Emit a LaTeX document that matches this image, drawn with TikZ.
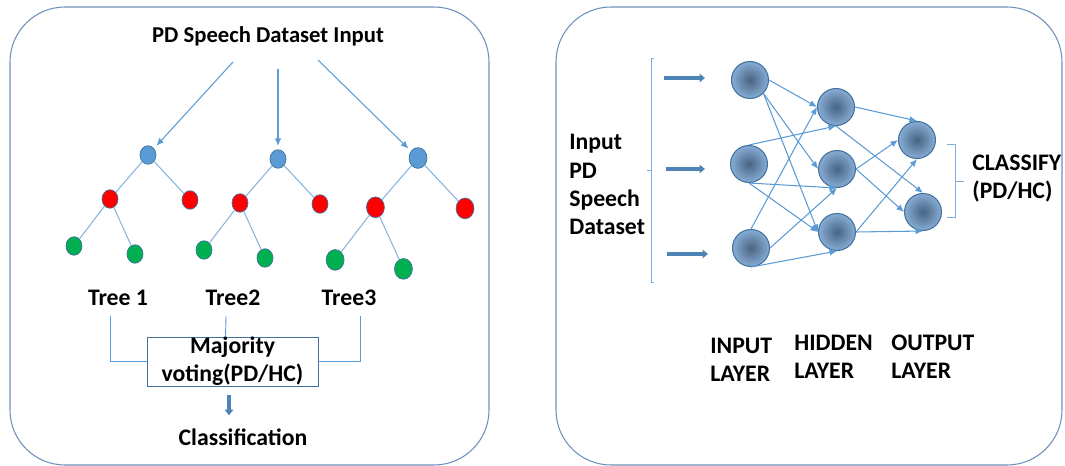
\documentclass[tikz,border=0pt]{standalone}
\usepackage{fontspec}
\setmainfont{Carlito}
\usetikzlibrary{positioning}
\usetikzlibrary{arrows,arrows.meta}
\usetikzlibrary{shapes.geometric}
\definecolor{lineblue}{RGB}{91,155,213}
\definecolor{edgeblue}{RGB}{65,113,156}
\definecolor{leafgreen}{RGB}{0,176,80}
\definecolor{panelblue}{RGB}{110,145,185}
\definecolor{coredark}{RGB}{72,100,130}
\definecolor{rimlight}{RGB}{135,172,212}

\tikzset{
 panel/.style={draw=panelblue, rounded corners=1.1cm, line width=0.6pt},
 lbl/.style={font=\bfseries\fontsize{13.5}{16}\selectfont, inner sep=0pt},
 heading/.style={font=\bfseries\fontsize{12.9}{15}\selectfont, inner sep=0pt},
 treenode/.style={ellipse, draw=edgeblue, line width=0.4pt, inner sep=0pt},
 treeedge/.style={draw=lineblue!75, line width=0.6pt},
 feed/.style={-{Latex[length=0.15cm,width=0.13cm]}, draw=lineblue, line width=0.6pt},
 fatarrow/.style={-{Triangle[length=0.11cm,width=0.17cm]}, draw=lineblue!85!black, line width=2.2pt},
 neuron/.style={circle, draw=edgeblue, line width=0.6pt, minimum size=0.74cm,
   inner color=coredark, outer color=rimlight},
 votebox/.style={draw=edgeblue, line width=0.5pt, minimum width=3.42cm,
   minimum height=0.98cm, align=center, inner sep=0pt}
}

\begin{document}
\begin{tikzpicture}[x=0.02cm,y=-0.02cm]
 \useasboundingbox (0,0) rectangle (1065,466);
 \draw[panel] (10,7) rectangle (489,465);
 \draw[panel] (556,7) rectangle (1062,465);

 % random forest side
 \node[heading] (data) at (268,36) {PD Speech Dataset Input};
 \coordinate (s1) at (233,62);
 \coordinate (s2) at (278,69);
 \coordinate (s3) at (318,60);
 \foreach \i/\x/\y/\s in {1/148/155/1, 2/278/159/1, 3/418/158/1.12}{
  \node[treenode, fill=lineblue, minimum width={0.32cm*\s}, minimum height={0.37cm*\s}] (r\i) at (\x,\y) {};
  \node[treenode, fill=red, minimum width={0.32cm*\s}, minimum height={0.37cm*\s}] (a\i) at (\x-38*\s,\y+44*\s) {};
  \node[treenode, fill=red, minimum width={0.32cm*\s}, minimum height={0.37cm*\s}] (b\i) at (\x+42*\s,\y+45*\s) {};
  \node[treenode, fill=leafgreen, minimum width={0.32cm*\s}, minimum height={0.37cm*\s}] (c\i) at (\x-74*\s,\y+91*\s) {};
  \node[treenode, fill=leafgreen, minimum width={0.32cm*\s}, minimum height={0.37cm*\s}] (d\i) at (\x-13*\s,\y+99*\s) {};
  \draw[treeedge] (r\i) -- (a\i);
  \draw[treeedge] (r\i) -- (b\i);
  \draw[treeedge] (a\i) -- (c\i);
  \draw[treeedge] (a\i) -- (d\i);
  \draw[feed, shorten >=2pt] (s\i) -- (r\i);
 }
 \node[lbl] (t1) at (118,298) {Tree 1};
 \node[lbl] (t2) at (233,298) {Tree2};
 \node[lbl] (t3) at (349,298) {Tree3};
 \node[votebox, lbl, inner sep=0pt, minimum width=3.42cm, minimum height=0.98cm] (vote) at (232.5,361.5) {Majority\\voting(PD/HC)};
 \draw[draw=lineblue, line width=0.5pt] ([xshift=-0.16cm,yshift=-0.2cm]t1.south) |- (vote.west);
 \draw[draw=lineblue, line width=0.5pt] ([xshift=-0.14cm,yshift=-0.2cm]t2.south) -- ([xshift=-0.14cm]vote.north);
 \draw[draw=lineblue, line width=0.5pt] ([xshift=0.22cm,yshift=-0.2cm]t3.south) |- (vote.east);
 \node[lbl] (cls) at (243,437) {Classification};
 \draw[fatarrow, shorten <=0.18cm, shorten >=0.26cm] ([xshift=-0.07cm]vote.south) -- ([xshift=-0.07cm]vote.south |- cls.north);

 % neural network side
 \node[neuron] (i1) at (750,80) {};
 \node[neuron] (i2) at (749,164) {};
 \node[neuron] (i3) at (751,248) {};
 \node[neuron] (h1) at (836,107) {};
 \node[neuron] (h2) at (837,169) {};
 \node[neuron] (h3) at (837,232) {};
 \node[neuron] (o1) at (917,140) {};
 \node[neuron] (o2) at (923,212) {};
 \foreach \a/\b in {i1.east/h1.west, i1.south east/h2.west, i1.south east/h3.west,
   i2.north/h1.south, i2.south/h2.south, i2.south/h3.west,
   i3.north/h1.west, i3.east/h2.south, i3.south/h3.south,
   h1.east/o1.north, h1.south/o2.north, h2.east/o1.west, h2.east/o2.west,
   h3.east/o1.south, h3.east/o2.south}
  \draw[feed] (\a) -- (\b);
 \foreach \k/\xa/\xb/\y in {1/664/705/78, 2/666/705/169, 3/667/708/254}{
  \coordinate (p\k) at (\xa,\y);
  \coordinate (q\k) at (\xb,\y);
  \draw[fatarrow] (p\k) -- (q\k);
 }
 \draw[draw=lineblue!80, line width=0.5pt] (654,58) -- (651,58) -- (651,282) -- (654,282);
 \draw[draw=lineblue!80, line width=0.5pt] (651,170) -- (647,170);
 \draw[draw=lineblue!80, line width=0.5pt] (947,144) -- (955,144) -- (955,217) -- (947,217);
 \draw[draw=lineblue!80, line width=0.5pt] (955,181) -- (964,181);
 \node[lbl, align=left, anchor=west] (inp) at (569,184.5) {Input\\PD\\Speech\\Dataset};
 \node[lbl, align=left, anchor=west] (clf) at (972,178.5) {CLASSIFY\\(PD/HC)};
 \node[lbl, align=left, anchor=west] (lin) at (710,360) {INPUT\\LAYER};
 \node[lbl, align=left, anchor=west] (lhid) at (794,357) {HIDDEN\\LAYER};
 \node[lbl, align=left, anchor=west] (lout) at (891,357) {OUTPUT\\LAYER};
\end{tikzpicture}
\end{document}
